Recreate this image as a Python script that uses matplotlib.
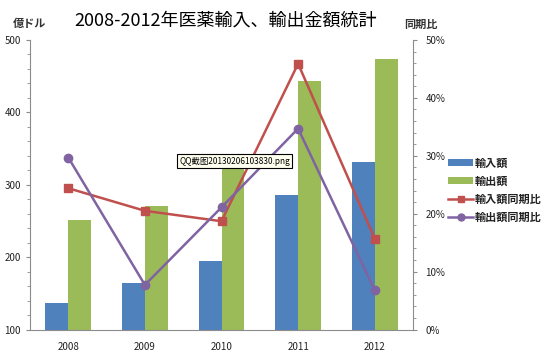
import numpy as np
import matplotlib
matplotlib.use('Agg')
import matplotlib.pyplot as plt
from matplotlib.ticker import MultipleLocator, PercentFormatter
from matplotlib.patches import Patch
from matplotlib.lines import Line2D

plt.rcParams['font.family'] = ['Noto Sans CJK JP', 'DejaVu Sans']
plt.rcParams['axes.unicode_minus'] = False

years = ['2008', '2009', '2010', '2011', '2012']
import_amt = [136, 164, 195, 286, 332]
export_amt = [251, 271, 335, 444, 474]
import_yoy = [24.4, 20.5, 18.7, 45.9, 15.7]
export_yoy = [29.7, 7.7, 21.1, 34.7, 6.8]

c_blue = '#4F81BD'
c_green = '#9BBB59'
c_red = '#C0504D'
c_purple = '#8064A2'
c_axis = '#8C8C8C'

fig = plt.figure(figsize=(5.5, 3.58), dpi=100)
ax = fig.add_axes([30 / 550, 1 - 329.5 / 358, 383 / 550, 289.5 / 358])

x = np.arange(len(years))
w = 0.3
ax.bar(x - w / 2, import_amt, w, color=c_blue, bottom=0, zorder=2)
ax.bar(x + w / 2, export_amt, w, color=c_green, bottom=0, zorder=2)
ax.set_xlim(-0.5, len(years) - 0.5)
ax.set_ylim(100, 500)
ax.set_xticks(x)
ax.set_xticklabels(years)
ax.yaxis.set_major_locator(MultipleLocator(100))
ax.yaxis.set_minor_locator(MultipleLocator(20))
ax.tick_params(axis='x', length=0, labelsize=7, pad=9, colors='#222222')
ax.tick_params(axis='y', which='major', length=3, labelsize=7, colors=c_axis, labelcolor='#222222')
ax.tick_params(axis='y', which='minor', length=2, colors=c_axis)
for s in ['top', 'right']:
    ax.spines[s].set_visible(False)
for s in ['left', 'bottom']:
    ax.spines[s].set_color(c_axis)
    ax.spines[s].set_linewidth(0.8)

ax2 = ax.twinx()
ax2.plot(x, import_yoy, color=c_red, lw=1.8, marker='s', ms=6, zorder=3)
ax2.plot(x, export_yoy, color=c_purple, lw=1.8, marker='o', ms=6, zorder=3)
ax2.set_ylim(0, 50)
ax2.yaxis.set_major_locator(MultipleLocator(10))
ax2.yaxis.set_minor_locator(MultipleLocator(2))
ax2.yaxis.set_major_formatter(PercentFormatter(decimals=0))
ax2.tick_params(axis='y', which='major', length=3, labelsize=7, colors=c_axis, labelcolor='#222222', pad=6)
ax2.tick_params(axis='y', which='minor', length=2, colors=c_axis)
for s in ['top', 'left', 'bottom']:
    ax2.spines[s].set_visible(False)
ax2.spines['right'].set_color(c_axis)
ax2.spines['right'].set_linewidth(0.8)

fig.text(226 / 550, 1 - 21 / 358, '2008-2012年医薬輸入、輸出金額統計',
         ha='center', va='center', fontsize=13, color='black')
fig.text(30 / 550, 1 - 24 / 358, '億ドル', ha='center', va='center',
         fontsize=8, fontweight='bold', color='#333333')
fig.text(421 / 550, 1 - 24 / 358, '同期比', ha='center', va='center',
         fontsize=8, fontweight='bold', color='#333333')

handles = [
    Patch(facecolor=c_blue, label='輸入額'),
    Patch(facecolor=c_green, label='輸出額'),
    Line2D([], [], color=c_red, lw=1.8, marker='s', ms=5, label='輸入額同期比'),
    Line2D([], [], color=c_purple, lw=1.8, marker='o', ms=5, label='輸出額同期比'),
]
leg = fig.legend(handles=handles, loc='upper left', bbox_to_anchor=(444 / 550, 1 - 152 / 358),
                 frameon=False, fontsize=8, handlelength=2.2, handleheight=0.5,
                 handletextpad=0.2, labelspacing=0.45, borderaxespad=0)
for t in leg.get_texts():
    t.set_fontweight('bold')
    t.set_color('#222222')

fig.text(179 / 550, 1 - 161 / 358, 'QQ截图20130206103830.png',
         family=['Noto Sans CJK SC', 'DejaVu Sans'], ha='left', va='center',
         fontsize=6, color='black', zorder=10,
         bbox=dict(boxstyle='square,pad=0.25', facecolor='#FFFFF0', edgecolor='black', linewidth=0.8))

fig.savefig('out.png', dpi=100)
